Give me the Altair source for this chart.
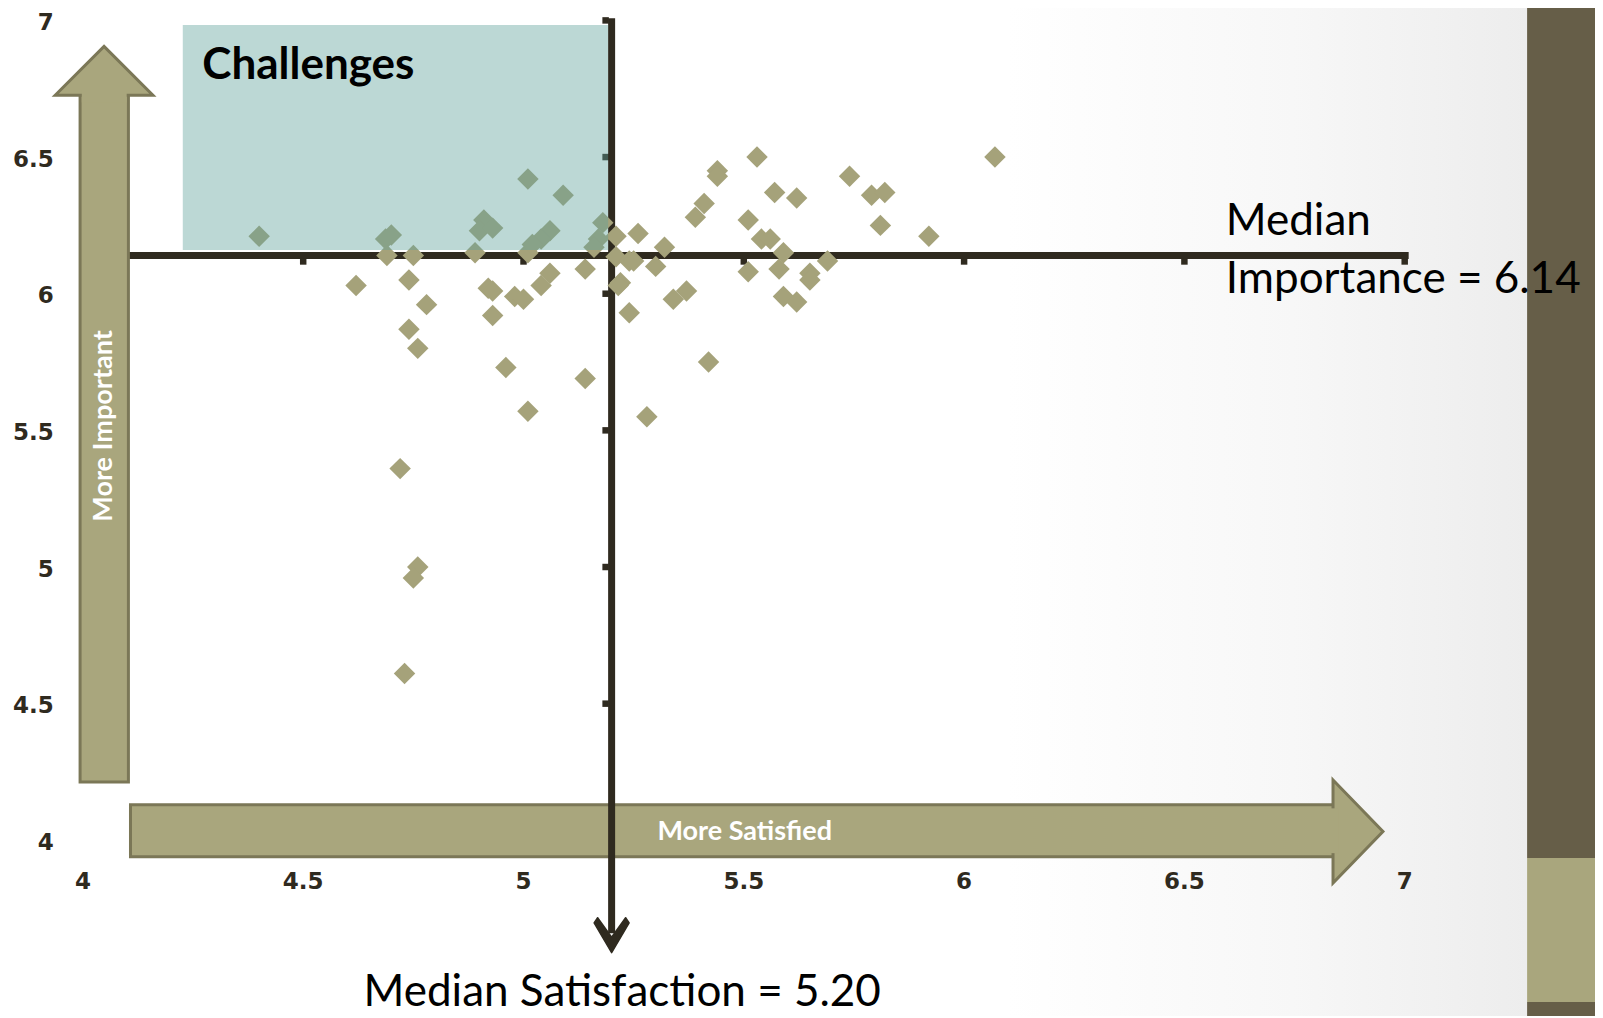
import altair as alt
import pandas as pd

# ---------------- data ----------------
satisfaction = [4.40, 4.70, 4.687, 4.69, 4.75, 4.62, 4.74, 4.78, 4.74, 4.76, 4.72, 4.76, 4.75, 4.73,
                4.91, 4.90, 4.93, 4.89, 4.92, 4.93, 4.98, 5.00, 4.93, 4.96, 5.01, 5.01, 5.09, 5.01,
                5.06, 5.04, 5.02, 5.06, 5.04, 5.14, 5.14,
                5.18, 5.17, 5.16, 5.21, 5.26, 5.21, 5.24, 5.25, 5.22, 5.215, 5.24, 5.28,
                5.53, 5.44, 5.44, 5.41, 5.39, 5.57, 5.62, 5.74, 5.79, 5.82, 5.81, 5.92, 6.07,
                5.51, 5.54, 5.56, 5.59, 5.69, 5.51, 5.58, 5.65, 5.65, 5.59, 5.62, 5.32, 5.30, 5.37, 5.34, 5.42]
importance = [6.21, 6.215, 6.20, 6.14, 6.14, 6.03, 6.05, 5.96, 5.87, 5.80, 5.36, 5.00, 4.96, 4.61,
              6.27, 6.23, 6.24, 6.15, 6.02, 6.01, 5.99, 5.98, 5.92, 5.73, 5.57, 6.42, 6.36, 6.15,
              6.23, 6.20, 6.18, 6.075, 6.03, 6.09, 5.69,
              6.26, 6.20, 6.17, 6.21, 6.22, 6.135, 6.12, 6.12, 6.04, 6.03, 5.93, 5.55,
              6.50, 6.45, 6.43, 6.33, 6.28, 6.37, 6.35, 6.43, 6.36, 6.37, 6.25, 6.21, 6.50,
              6.27, 6.20, 6.20, 6.15, 6.12, 6.08, 6.09, 6.075, 6.05, 5.99, 5.97, 6.17, 6.10, 6.01, 5.98, 5.75]
tick_values = [4, 4.5, 5, 5.5, 6, 6.5, 7]
tick_labels = ["4", "4.5", "5", "5.5", "6", "6.5", "7"]
median_satisfaction = 5.20
median_importance = 6.14

# ---------------- scales / layout ----------------
PX_X, PX_Y = 440.6, 273.3          # pixels per data unit
W, H = 1587, 1008
X0 = 3.830
X1 = X0 + W / PX_X
Y1 = 7.0454
Y0 = Y1 - H / PX_Y
xs = alt.Scale(domain=[X0, X1], nice=False, zero=False)
ys = alt.Scale(domain=[Y0, Y1], nice=False, zero=False)

DARK = "#2F2A1F"
OLIVE = "#A9A67D"
OLIVE_EDGE = "#7B7757"
BAND_DARK = "#665E48"
POINT = "#A5A27A"
FONT = "Lato"


def enc(x2=False, y2=False, **extra):
    d = dict(x=alt.X("x:Q", scale=xs, axis=None), y=alt.Y("y:Q", scale=ys, axis=None))
    if x2:
        d["x2"] = alt.X2("x2:Q")
    if y2:
        d["y2"] = alt.Y2("y2:Q")
    d.update(extra)
    return d


def rows(*r):
    return pd.DataFrame(list(r))


# background gradient near right edge
grad = alt.LinearGradient(
    gradient="linear",
    stops=[alt.GradientStop(color="#ffffff", offset=0),
           alt.GradientStop(color="#f7f7f7", offset=0.55),
           alt.GradientStop(color="#ededed", offset=1)],
    x1=0, y1=0, x2=1, y2=0)
bg = alt.Chart(rows({"x": 6.1, "x2": 7.2778, "y": Y0, "y2": Y1})).mark_rect(color=grad).encode(**enc(True, True))

band = alt.Chart(rows(
    {"x": 7.2778, "x2": X1, "y": 3.935, "y2": Y1, "c": BAND_DARK},
    {"x": 7.2778, "x2": X1, "y": 3.408, "y2": 3.935, "c": OLIVE},
    {"x": 7.2778, "x2": X1, "y": Y0, "y2": 3.408, "c": BAND_DARK},
)).mark_rect().encode(**enc(True, True, color=alt.Color("c:N", scale=None)))

# ---- X arrow (More Satisfied)
xa_body = alt.Chart(rows({"x": 4.108, "x2": 6.85, "y": 3.940, "y2": 4.130})).mark_rect(
    fill=OLIVE, stroke=OLIVE_EDGE, strokeWidth=3).encode(**enc(True, True))
xa_head = alt.Chart(rows({"x": 6.894, "y": 4.032})).mark_point(
    shape="M -0.485 -1 L 0.485 0 L -0.485 1 Z", size=10609, filled=True, fill=OLIVE,
    stroke=OLIVE_EDGE, strokeWidth=3, opacity=1).encode(**enc())
xa_cover = alt.Chart(rows({"x": 6.815, "x2": 6.85, "y": 3.953, "y2": 4.117})).mark_rect(
    fill=OLIVE).encode(**enc(True, True))
xa_text = alt.Chart(rows({"x": 5.502, "y": 4.030, "t": "More Satisfied"})).mark_text(
    font=FONT, fontWeight="bold", fontSize=27, color="white", baseline="middle", align="center"
).encode(**enc(text="t:N"))

# ---- median lines
hline = alt.Chart(rows({"x": 3.993, "x2": 7.009, "y": median_importance})).mark_rule(
    color=DARK, strokeWidth=7, strokeCap="butt").encode(**enc(True))
vline = alt.Chart(rows({"x": median_satisfaction, "y": 3.66, "y2": 7.0077})).mark_rule(
    color=DARK, strokeWidth=7, strokeCap="butt").encode(**enc(False, True))
htick = alt.Chart(pd.DataFrame({"x": tick_values[1:], "y": [median_importance] * 6})).mark_square(
    size=42, color=DARK, opacity=1, yOffset=6).encode(**enc())
vtick = alt.Chart(pd.DataFrame({"x": [median_satisfaction] * 6, "y": tick_values[1:]})).mark_square(
    size=42, color=DARK, opacity=1, xOffset=-6).encode(**enc())
vhead = alt.Chart(rows({"x": median_satisfaction, "y": 3.6528})).mark_point(
    shape="M 0 1 L -1 -0.7 L -0.8 -1 L 0 0.12 L 0.8 -1 L 1 -0.7 Z", size=1225, filled=True,
    fill=DARK, stroke=DARK, strokeWidth=1.5, strokeJoin="round", opacity=1).encode(**enc())

# ---- Y arrow (More Important)
ya_body = alt.Chart(rows({"x": 3.9936, "x2": 4.1033, "y": 4.213, "y2": 6.745})).mark_rect(
    fill=OLIVE, stroke=OLIVE_EDGE, strokeWidth=3).encode(**enc(True, True))
ya_head = alt.Chart(rows({"x": 4.048, "y": 6.8154})).mark_point(
    shape="M -1 0.5 L 0 -0.5 L 1 0.5 Z", size=9545, filled=True, fill=OLIVE,
    stroke=OLIVE_EDGE, strokeWidth=3, opacity=1).encode(**enc())
ya_cover = alt.Chart(rows({"x": 3.9975, "x2": 4.0994, "y": 6.70, "y2": 6.745})).mark_rect(
    fill=OLIVE).encode(**enc(True, True))
ya_text = alt.Chart(rows({"x": 4.048, "y": 5.516, "t": "More Important"})).mark_text(
    font=FONT, fontWeight="bold", fontSize=27, color="white", baseline="middle", align="center",
    angle=270).encode(**enc(text="t:N"))

# ---- points
pts = alt.Chart(pd.DataFrame({"x": satisfaction, "y": importance})).mark_point(
    shape="diamond", size=460, filled=True, color=POINT, opacity=1).encode(**enc())

# ---- Challenges quadrant
box = alt.Chart(rows({"x": 4.2267, "x2": 5.192, "y": 6.160, "y2": 6.983})).mark_rect(
    fill="#5FA19C", opacity=0.42).encode(**enc(True, True))
box_text = alt.Chart(rows({"x": 4.271, "y": 6.835, "t": "Challenges"})).mark_text(
    font=FONT, fontWeight="bold", fontSize=44, color="black", baseline="middle", align="left"
).encode(**enc(text="t:N"))

# ---- tick labels
TICK_FONT = "DejaVu Sans"
xlab = alt.Chart(pd.DataFrame({"x": tick_values, "y": [3.848] * 7, "t": tick_labels})).mark_text(
    font=TICK_FONT, fontWeight="bold", fontSize=23, color=DARK, baseline="middle", align="center"
).encode(**enc(text="t:N"))
ylab = alt.Chart(pd.DataFrame({"x": [3.934] * 7, "y": tick_values, "t": tick_labels})).mark_text(
    font=TICK_FONT, fontWeight="bold", fontSize=23, color=DARK, baseline="middle", align="right",
    dy=2.5).encode(**enc(text="t:N"))

# ---- median annotations
imp_text = alt.Chart(rows(
    {"x": 6.594, "y": 6.215, "t": "Median"},
    {"x": 6.594, "y": 6.0036, "t": f"Importance = {median_importance:.2f}"},
)).mark_text(font=FONT, fontSize=44, color="black", baseline="alphabetic", align="left"
             ).encode(**enc(text="t:N"))
sat_text = alt.Chart(rows({"x": 5.224, "y": 3.392, "t": f"Median Satisfaction = {median_satisfaction:.2f}"})
                     ).mark_text(font=FONT, fontSize=44, color="black", baseline="alphabetic",
                                 align="center").encode(**enc(text="t:N"))

chart = alt.layer(
    bg, band,
    xa_body, xa_head, xa_cover, xa_text,
    hline, htick, vline, vtick, vhead,
    ya_body, ya_head, ya_cover, ya_text,
    pts, box, box_text,
    xlab, ylab, imp_text, sat_text,
).properties(
    width=W, height=H,
    autosize=alt.AutoSizeParams(type="none"),
    padding=0,
    background="white",
).configure_view(strokeWidth=0)

chart.save("out.html", embed_options={"renderer": "svg", "actions": False})
